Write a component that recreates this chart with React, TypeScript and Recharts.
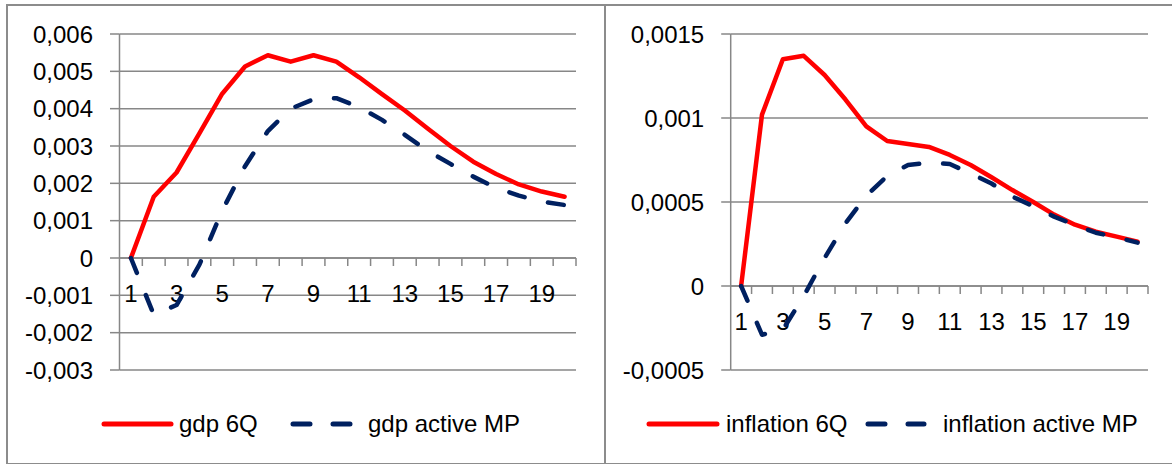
import { CartesianGrid, Line, LineChart, ReferenceLine, XAxis, YAxis } from 'recharts'

const periods = ['1', '2', '3', '4', '5', '6', '7', '8', '9', '10', '11', '12', '13', '14', '15', '16', '17', '18', '19', '20']

const gdp6Q = [0, 0.00164, 0.00229, 0.00334, 0.0044, 0.00513, 0.00543, 0.00526, 0.00543, 0.00526, 0.00484, 0.00439, 0.00395, 0.00347, 0.003, 0.00258, 0.00225, 0.00197, 0.00178, 0.00164]
const gdpActiveMP = [0, -0.00152, -0.00126, -0.00018, 0.00127, 0.00246, 0.0034, 0.004, 0.00425, 0.00428, 0.00404, 0.0037, 0.0033, 0.00287, 0.00252, 0.00218, 0.00188, 0.00167, 0.00151, 0.00142]

const inflation6Q = [0, 0.00102, 0.00135, 0.00137, 0.001256, 0.00111, 0.00095, 0.000863, 0.000845, 0.000828, 0.00078, 0.00072, 0.000647, 0.000571, 0.0005, 0.000425, 0.000365, 0.000323, 0.000294, 0.000264]
const inflationActiveMP = [0, -0.00029, -0.00026, -0.00006, 0.000167, 0.000373, 0.000538, 0.000655, 0.00072, 0.000734, 0.000726, 0.00067, 0.00061, 0.000532, 0.000475, 0.000413, 0.000363, 0.000317, 0.00029, 0.000258]

const gdpTicks = [-0.003, -0.002, -0.001, 0, 0.001, 0.002, 0.003, 0.004, 0.005, 0.006]
const inflationTicks = [-0.0005, 0, 0.0005, 0.001, 0.0015]

const gdpNames = ['gdp 6Q', 'gdp active MP']
const inflationNames = ['inflation 6Q', 'inflation active MP']

const FONT = '"Liberation Sans", Arial, sans-serif'
const GRID = '#878787'
const RED = '#ff0000'
const NAVY = '#002060'
const LINE_DASH = '16 24'

const fmt = (v: number) => (v === 0 ? '0' : String(v).replace('.', ','))

const toRows = (a: number[], b: number[]) => periods.map((p, i) => ({ period: p, a: a[i], b: b[i] }))

// draws the category axis where y = 0, the way Excel crosses it
function zeroAxis(props: any) {
  const { x1, y1, x2 } = props
  const step = (x2 - x1) / periods.length
  return (
    <g>
      <line x1={x1} y1={y1} x2={x2} y2={y1} stroke={GRID} strokeWidth={1.5} />
      {periods.map((_, i) => (
        <line key={'t' + i} x1={x1 + step * (i + 1)} y1={y1} x2={x1 + step * (i + 1)} y2={y1 + 8} stroke={GRID} strokeWidth={1.5} />
      ))}
      {periods.map((p, i) =>
        i % 2 === 0 ? (
          <text key={'l' + i} x={x1 + step * (i + 0.5)} y={y1 + 35} dy="0.355em" textAnchor="middle" fontSize={24} fontFamily={FONT} fill="#000">
            {p}
          </text>
        ) : null,
      )}
    </g>
  )
}

interface LegendSpot {
  from: number
  to: number
  text: number
}

interface PanelProps {
  left: number
  width: number
  axisWidth: number
  marginRight: number
  domain: [number, number]
  ticks: number[]
  red: number[]
  navy: number[]
  names: string[]
  legend: LegendSpot[]
}

function Panel({ left, width, axisWidth, marginRight, domain, ticks, red, navy, names, legend }: PanelProps) {
  const rows = toRows(red, navy)
  return (
    <div style={{ position: 'absolute', left, top: 0, width, height: 464 }}>
      <LineChart width={width} height={464} data={rows} margin={{ top: 34, right: marginRight, bottom: 94, left: 0 }}>
        <CartesianGrid vertical={false} stroke={GRID} strokeWidth={1.5} />
        <XAxis dataKey="period" scale="band" hide />
        <YAxis
          width={axisWidth}
          domain={domain}
          ticks={ticks}
          interval={0}
          tickFormatter={fmt}
          axisLine={{ stroke: GRID, strokeWidth: 1.5 }}
          tickLine={{ stroke: GRID, strokeWidth: 1.5 }}
          tickSize={9.5}
          tickMargin={17}
          tick={{ fontSize: 24, fontFamily: FONT, fill: '#000' }}
        />
        <ReferenceLine y={0} shape={zeroAxis} />
        <Line dataKey="a" name={names[0]} stroke={RED} strokeWidth={4.5} dot={false} strokeLinecap="round" strokeLinejoin="round" isAnimationActive={false} />
        <Line dataKey="b" name={names[1]} stroke={NAVY} strokeWidth={4.5} strokeDasharray={LINE_DASH} dot={false} strokeLinecap="round" strokeLinejoin="round" isAnimationActive={false} />
      </LineChart>
      <svg width={width} height={464} style={{ position: 'absolute', left: 0, top: 0, pointerEvents: 'none' }}>
        {names.map((n, i) => (
          <g key={n}>
            <line
              x1={legend[i].from + 2}
              y1={424}
              x2={legend[i].to - 2}
              y2={424}
              stroke={i === 0 ? RED : NAVY}
              strokeWidth={5}
              strokeLinecap="round"
              strokeDasharray={i === 0 ? undefined : '17 23'}
            />
            <text x={legend[i].text} y={432} fontSize={24} fontFamily={FONT} fill="#000">
              {n}
            </text>
          </g>
        ))}
      </svg>
    </div>
  )
}

export default function App() {
  return (
    <div style={{ position: 'absolute', left: 0, top: 0, width: 1172, height: 464, background: '#fff', overflow: 'hidden' }}>
      <div style={{ position: 'absolute', left: 6, top: 4, width: 1180, height: 457, border: '2px solid #8c8c8c' }} />
      <div style={{ position: 'absolute', left: 604, top: 4, width: 2, height: 461, background: '#8c8c8c' }} />
      <Panel
        left={0}
        width={605}
        axisWidth={119.5}
        marginRight={29}
        domain={[-0.003, 0.006]}
        ticks={gdpTicks}
        red={gdp6Q}
        navy={gdpActiveMP}
        names={gdpNames}
        legend={[
          { from: 102, to: 173, text: 179 },
          { from: 291, to: 352, text: 368 },
        ]}
      />
      <Panel
        left={605}
        width={567}
        axisWidth={125.7}
        marginRight={24}
        domain={[-0.0005, 0.0015]}
        ticks={inflationTicks}
        red={inflation6Q}
        navy={inflationActiveMP}
        names={inflationNames}
        legend={[
          { from: 42, to: 114, text: 121 },
          { from: 261, to: 321, text: 338 },
        ]}
      />
    </div>
  )
}
